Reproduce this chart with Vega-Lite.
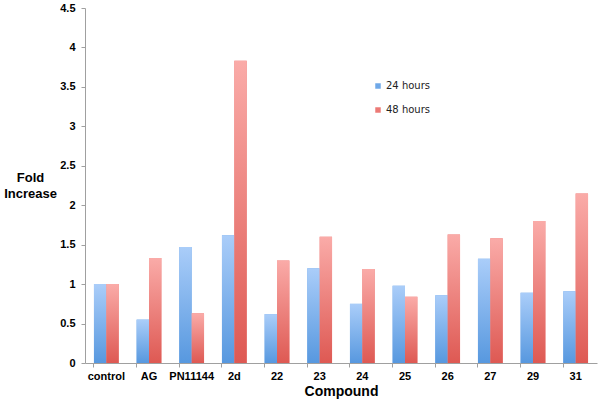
{
  "$schema": "https://vega.github.io/schema/vega-lite/v6.json",
  "width": 512,
  "height": 355,
  "autosize": "none",
  "padding": {"left": 85, "top": 8, "right": 7, "bottom": 41},
  "background": "white",
  "config": {
    "view": {"stroke": null},
    "font": "Liberation Sans"
  },
  "data": {
    "values": [
      {"compound": "control", "series": "24 hours", "value": 1.0},
      {"compound": "control", "series": "48 hours", "value": 1.0},
      {"compound": "AG", "series": "24 hours", "value": 0.55},
      {"compound": "AG", "series": "48 hours", "value": 1.33},
      {"compound": "PN11144", "series": "24 hours", "value": 1.47},
      {"compound": "PN11144", "series": "48 hours", "value": 0.63},
      {"compound": "2d", "series": "24 hours", "value": 1.62},
      {"compound": "2d", "series": "48 hours", "value": 3.83},
      {"compound": "22", "series": "24 hours", "value": 0.62},
      {"compound": "22", "series": "48 hours", "value": 1.3},
      {"compound": "23", "series": "24 hours", "value": 1.2},
      {"compound": "23", "series": "48 hours", "value": 1.6},
      {"compound": "24", "series": "24 hours", "value": 0.75},
      {"compound": "24", "series": "48 hours", "value": 1.19},
      {"compound": "25", "series": "24 hours", "value": 0.98},
      {"compound": "25", "series": "48 hours", "value": 0.84},
      {"compound": "26", "series": "24 hours", "value": 0.86},
      {"compound": "26", "series": "48 hours", "value": 1.63},
      {"compound": "27", "series": "24 hours", "value": 1.32},
      {"compound": "27", "series": "48 hours", "value": 1.58},
      {"compound": "29", "series": "24 hours", "value": 0.89},
      {"compound": "29", "series": "48 hours", "value": 1.8},
      {"compound": "31", "series": "24 hours", "value": 0.91},
      {"compound": "31", "series": "48 hours", "value": 2.15}
    ]
  },
  "encoding": {
    "x": {
      "field": "compound",
      "type": "nominal",
      "sort": null,
      "scale": {"paddingInner": 0.42, "paddingOuter": 0.21},
      "axis": {
        "title": "Compound",
        "titleFont": "Liberation Sans",
        "titleFontSize": 14,
        "titleFontWeight": "bold",
        "titleColor": "black",
        "titlePadding": 3,
        "labelAngle": 0,
        "labelFont": "Liberation Sans",
        "labelFontSize": 11,
        "labelFontWeight": "bold",
        "labelColor": "black",
        "labelPadding": 3,
        "bandPosition": 0,
        "domainColor": "#a0a0a0",
        "tickColor": "#a0a0a0",
        "tickSize": 4
      }
    },
    "xOffset": {
      "field": "series",
      "type": "nominal",
      "scale": {"domain": ["24 hours", "48 hours"]}
    },
    "y": {
      "field": "value",
      "type": "quantitative",
      "scale": {"domain": [0, 4.5], "nice": false},
      "axis": {
        "values": [0, 0.5, 1, 1.5, 2, 2.5, 3, 3.5, 4, 4.5],
        "format": ".1~f",
        "grid": false,
        "title": ["Fold", "Increase"],
        "titleAngle": 0,
        "titleAlign": "center",
        "titleBaseline": "alphabetic",
        "titleX": -55,
        "titleY": 173,
        "titleLineHeight": 16,
        "titleFont": "Liberation Sans",
        "titleFontSize": 13,
        "titleFontWeight": "bold",
        "titleColor": "black",
        "labelFont": "Liberation Sans",
        "labelFontSize": 11,
        "labelFontWeight": "bold",
        "labelColor": "black",
        "labelPadding": 6,
        "domainColor": "#a0a0a0",
        "tickColor": "#a0a0a0",
        "tickSize": 4
      }
    }
  },
  "layer": [
    {
      "mark": {"type": "bar"},
      "encoding": {
        "color": {
          "field": "series",
          "type": "nominal",
          "scale": {"domain": ["24 hours", "48 hours"], "range": ["#6fa8e8", "#ec7a76"]},
          "legend": {
            "title": null,
            "orient": "none",
            "legendX": 288,
            "legendY": 73,
            "symbolType": "square",
            "symbolSize": 30,
            "symbolStrokeWidth": 0,
            "labelFont": "DejaVu Sans",
            "labelFontSize": 10,
            "labelColor": "#222",
            "labelOffset": 3,
            "rowPadding": 14
          }
        }
      }
    },
    {
      "transform": [{"filter": "datum.series === '24 hours'"}],
      "mark": {
        "type": "bar",
        "fill": {
          "gradient": "linear",
          "x1": 0, "y1": 0, "x2": 0, "y2": 1,
          "stops": [
            {"offset": 0, "color": "#aacdf9"},
            {"offset": 1, "color": "#5798df"}
          ]
        }
      }
    },
    {
      "transform": [{"filter": "datum.series === '48 hours'"}],
      "mark": {
        "type": "bar",
        "fill": {
          "gradient": "linear",
          "x1": 0, "y1": 0, "x2": 0, "y2": 1,
          "stops": [
            {"offset": 0, "color": "#faaba8"},
            {"offset": 1, "color": "#de5953"}
          ]
        }
      }
    }
  ]
}
